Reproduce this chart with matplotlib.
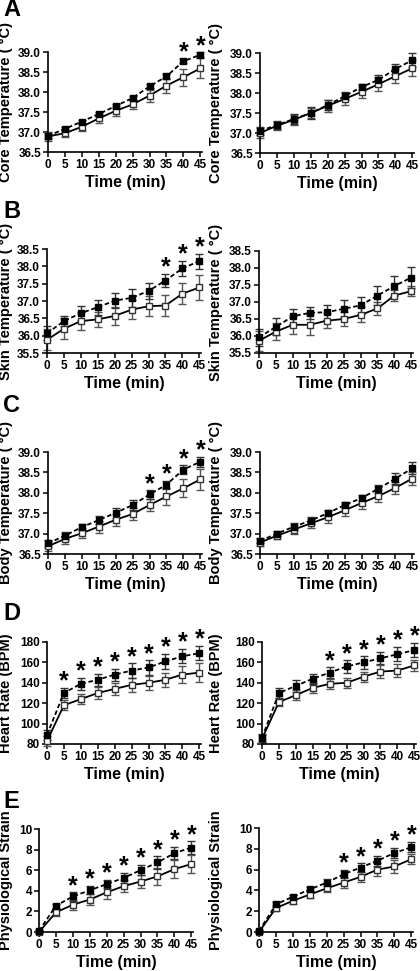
import numpy as np
import matplotlib
matplotlib.use('Agg')
import matplotlib.pyplot as plt

plt.rcParams['font.family'] = ['Liberation Sans', 'DejaVu Sans']
plt.rcParams['font.weight'] = 'bold'

time = [0, 5, 10, 15, 20, 25, 30, 35, 40, 45]

# A - core temperature
core_l_fill = [36.90, 37.08, 37.26, 37.45, 37.65, 37.85, 38.14, 38.39, 38.77, 38.93]
core_l_fill_err = [0.08, 0.05, 0.05, 0.05, 0.05, 0.05, 0.05, 0.06, 0.05, 0.06]
core_l_open = [36.89, 36.97, 37.13, 37.34, 37.53, 37.69, 37.91, 38.16, 38.37, 38.59]
core_l_open_err = [0.12, 0.10, 0.10, 0.12, 0.12, 0.12, 0.15, 0.18, 0.21, 0.25]
core_l_stars = [40, 45]
core_r_fill = [37.05, 37.20, 37.35, 37.50, 37.70, 37.92, 38.15, 38.33, 38.60, 38.82]
core_r_fill_err = [0.10, 0.10, 0.12, 0.15, 0.13, 0.10, 0.08, 0.12, 0.13, 0.17]
core_r_open = [37.00, 37.18, 37.33, 37.50, 37.68, 37.85, 38.03, 38.22, 38.42, 38.62]
core_r_open_err = [0.12, 0.10, 0.12, 0.12, 0.15, 0.15, 0.15, 0.17, 0.18, 0.20]
core_r_stars = []

# B - skin temperature
skin_l_fill = [36.07, 36.42, 36.65, 36.82, 37.01, 37.09, 37.29, 37.59, 37.94, 38.15]
skin_l_fill_err = [0.20, 0.15, 0.20, 0.22, 0.22, 0.25, 0.22, 0.20, 0.22, 0.22]
skin_l_open = [35.88, 36.20, 36.42, 36.47, 36.57, 36.75, 36.85, 36.87, 37.21, 37.39]
skin_l_open_err = [0.30, 0.30, 0.25, 0.22, 0.25, 0.28, 0.28, 0.30, 0.30, 0.35]
skin_l_stars = [35, 40, 45]
skin_r_fill = [35.96, 36.27, 36.58, 36.68, 36.70, 36.80, 36.90, 37.19, 37.47, 37.72]
skin_r_fill_err = [0.25, 0.25, 0.22, 0.18, 0.22, 0.25, 0.25, 0.28, 0.30, 0.32]
skin_r_open = [35.86, 36.13, 36.33, 36.33, 36.45, 36.50, 36.62, 36.81, 37.19, 37.32]
skin_r_open_err = [0.30, 0.25, 0.28, 0.30, 0.22, 0.22, 0.22, 0.20, 0.15, 0.15]
skin_r_stars = []

# C - body temperature
body_l_fill = [36.76, 36.95, 37.16, 37.33, 37.51, 37.70, 37.96, 38.20, 38.57, 38.76]
body_l_fill_err = [0.08, 0.10, 0.08, 0.10, 0.12, 0.12, 0.10, 0.10, 0.10, 0.12]
body_l_open = [36.69, 36.87, 37.01, 37.17, 37.34, 37.48, 37.70, 37.91, 38.11, 38.33]
body_l_open_err = [0.12, 0.12, 0.12, 0.15, 0.15, 0.15, 0.15, 0.20, 0.22, 0.25]
body_l_stars = [30, 35, 40, 45]
body_r_fill = [36.82, 37.00, 37.17, 37.32, 37.50, 37.70, 37.87, 38.10, 38.35, 38.60]
body_r_fill_err = [0.06, 0.06, 0.08, 0.08, 0.08, 0.08, 0.08, 0.10, 0.13, 0.15]
body_r_open = [36.78, 36.95, 37.10, 37.25, 37.40, 37.57, 37.75, 37.92, 38.12, 38.35]
body_r_open_err = [0.08, 0.08, 0.12, 0.12, 0.15, 0.15, 0.15, 0.15, 0.15, 0.15]
body_r_stars = []

# D - heart rate
hr_l_fill = [89, 130, 139, 143, 148, 152, 155, 161, 166, 169]
hr_l_fill_err = [5, 5, 6, 6, 6, 7, 7, 7, 7, 7]
hr_l_open = [83, 118, 124, 130, 134, 138, 140, 143, 148, 150]
hr_l_open_err = [5, 5, 5, 6, 6, 7, 7, 7, 8, 9]
hr_l_stars = [5, 10, 15, 20, 25, 30, 35, 40, 45]
hr_r_fill = [86, 130, 137, 144, 150, 156, 160, 164, 168, 172]
hr_r_fill_err = [4, 5, 6, 5, 5, 6, 6, 6, 7, 7]
hr_r_open = [85, 121, 128, 135, 139, 140, 146, 151, 152, 157]
hr_r_open_err = [4, 4, 5, 5, 5, 5, 5, 6, 6, 5]
hr_r_stars = [20, 25, 30, 35, 40, 45]

# E - physiological strain
ps_l_fill = [0.1, 2.55, 3.45, 4.05, 4.65, 5.25, 6.0, 6.75, 7.65, 8.2]
ps_l_fill_err = [0.1, 0.2, 0.4, 0.4, 0.4, 0.5, 0.5, 0.6, 0.6, 0.6]
ps_l_open = [0.0, 1.9, 2.65, 3.15, 3.85, 4.45, 4.9, 5.4, 6.1, 6.6]
ps_l_open_err = [0.1, 0.3, 0.5, 0.5, 0.6, 0.6, 0.6, 0.8, 0.9, 0.9]
ps_l_stars = [10, 15, 20, 25, 30, 35, 40, 45]
ps_r_fill = [0.1, 2.65, 3.4, 4.1, 4.75, 5.55, 6.2, 6.85, 7.6, 8.15]
ps_r_fill_err = [0.1, 0.2, 0.2, 0.2, 0.3, 0.4, 0.4, 0.5, 0.5, 0.5]
ps_r_open = [0.0, 2.3, 3.0, 3.6, 4.2, 4.75, 5.3, 6.0, 6.3, 7.0]
ps_r_open_err = [0.1, 0.3, 0.3, 0.3, 0.4, 0.5, 0.5, 0.6, 0.6, 0.5]
ps_r_stars = [25, 30, 35, 40, 45]

core_label = 'Core Temperature ( °C)'
skin_label = 'Skin Temperature ( °C)'
body_label = 'Body Temperature ( °C)'
hr_label = 'Heart Rate (BPM)'
ps_label = 'Physiological Strain'
letters = ['A', 'B', 'C', 'D', 'E']

temp_ticks = [36.5, 37.0, 37.5, 38.0, 38.5, 39.0]
skin_ticks = [35.5, 36.0, 36.5, 37.0, 37.5, 38.0, 38.5]
hr_ticks = [80, 100, 120, 140, 160, 180]
ps_ticks = [0, 2, 4, 6, 8, 10]

rows = [
    (core_label, temp_ticks, '%.1f',
     (core_l_fill, core_l_fill_err, core_l_open, core_l_open_err, core_l_stars),
     (core_r_fill, core_r_fill_err, core_r_open, core_r_open_err, core_r_stars)),
    (skin_label, skin_ticks, '%.1f',
     (skin_l_fill, skin_l_fill_err, skin_l_open, skin_l_open_err, skin_l_stars),
     (skin_r_fill, skin_r_fill_err, skin_r_open, skin_r_open_err, skin_r_stars)),
    (body_label, temp_ticks, '%.1f',
     (body_l_fill, body_l_fill_err, body_l_open, body_l_open_err, body_l_stars),
     (body_r_fill, body_r_fill_err, body_r_open, body_r_open_err, body_r_stars)),
    (hr_label, hr_ticks, '%d',
     (hr_l_fill, hr_l_fill_err, hr_l_open, hr_l_open_err, hr_l_stars),
     (hr_r_fill, hr_r_fill_err, hr_r_open, hr_r_open_err, hr_r_stars)),
    (ps_label, ps_ticks, '%d',
     (ps_l_fill, ps_l_fill_err, ps_l_open, ps_l_open_err, ps_l_stars),
     (ps_r_fill, ps_r_fill_err, ps_r_open, ps_r_open_err, ps_r_stars)),
]

W, H = 420, 971
# axes boxes in pixels: (left, top, bottom) for left and right column
boxes = [
    ((48, 52, 152), (260, 53, 153)),
    ((47, 249, 353), (259, 251, 353)),
    ((48, 452, 554), (260, 452, 554)),
    ((47, 642, 744), (262, 642, 744)),
    ((39, 829, 932), (259, 828, 932)),
]
letter_y = [10, 211, 405, 614, 801]
axw = 154

fig = plt.figure(figsize=(W / 100, H / 100), dpi=100)

for r, (ylab, yt, fmt, left, right) in enumerate(rows):
    for c, d in enumerate((left, right)):
        lpx, tpx, bpx = boxes[r][c]
        ax = fig.add_axes([lpx / W, 1 - bpx / H, axw / W, (bpx - tpx) / H])
        fill, fill_err, op, op_err, stars = d
        ax.errorbar(time, op, yerr=op_err, fmt='none', ecolor='#555555',
                    elinewidth=1.0, capsize=3, capthick=1.0, clip_on=False, zorder=2)
        ax.errorbar(time, fill, yerr=fill_err, fmt='none', ecolor='#333333',
                    elinewidth=1.0, capsize=3, capthick=1.0, clip_on=False, zorder=2)
        ax.plot(time, op, '-', color='black', lw=1.3, marker='s', ms=4.5,
                mfc='white', mec='#333333', mew=1.0, clip_on=False, zorder=3)
        ax.plot(time, fill, linestyle=(0, (2.5, 1.5)), color='black', lw=1.3,
                marker='s', ms=4.5, mfc='black', mec='black', clip_on=False, zorder=4)
        for s in stars:
            i = time.index(s)
            ax.annotate('*', (s, fill[i] + fill_err[i]), xytext=(0, -4),
                        textcoords='offset points', ha='center', va='bottom',
                        fontsize=18, fontweight='bold', annotation_clip=False)
        ax.set_xlim(0, 45.5)
        ax.set_ylim(yt[0], yt[-1])
        ax.set_xticks(time)
        ax.set_yticks(yt)
        ax.set_yticklabels([fmt % v for v in yt])
        for sp in ('top', 'right'):
            ax.spines[sp].set_visible(False)
        for sp in ('left', 'bottom'):
            ax.spines[sp].set_linewidth(1.2)
        ax.tick_params(direction='out', length=3.5, width=1.1, labelsize=8.5, pad=1.5)
        ax.set_xlabel('Time (min)', fontsize=11.5, fontweight='bold', labelpad=3)
        ax.set_ylabel(ylab, fontsize=10.5, fontweight='bold')
        lab_x = 13 if c == 0 else 223
        ax.yaxis.set_label_coords((lab_x - lpx) / axw, 0.5)
    fig.text(3 / W, 1 - letter_y[r] / H, letters[r], fontsize=17,
             fontweight='bold', va='center', ha='left')

fig.savefig('out.png', dpi=100)
